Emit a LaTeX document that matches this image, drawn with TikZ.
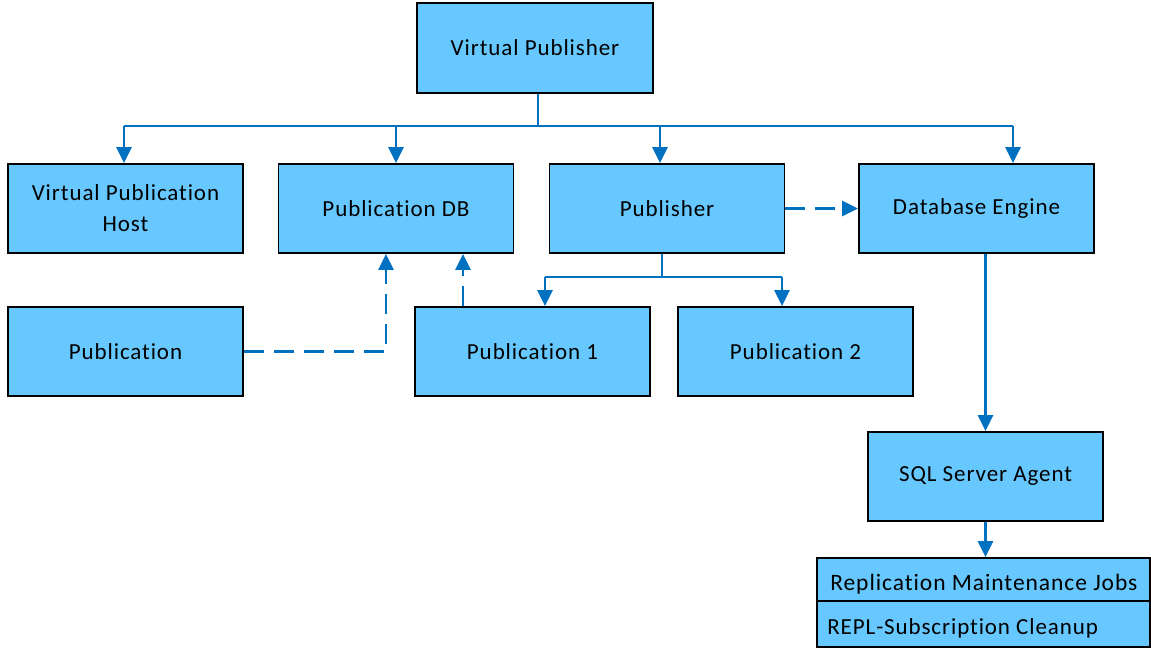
\documentclass[tikz,border=0pt]{standalone}
\usepackage{fontspec}
\setmainfont{Carlito}[Ligatures={NoCommon},LetterSpace=4]
\usetikzlibrary{arrows.meta}
\definecolor{boxfill}{HTML}{66C8FF}
\definecolor{linkblue}{HTML}{0070C0}
\begin{document}
\begin{tikzpicture}[x=1pt,y=-1pt,
  box/.style={draw=black,line width=1.8pt,fill=boxfill,minimum width=235pt,minimum height=89pt,
    inner sep=0pt,align=center,font=\fontsize{23}{31}\selectfont},
  conn/.style={draw=linkblue,line width=2.4pt},
  arr/.style={conn,-{Triangle[width=15pt,length=16pt]}},
  dashline/.style={conn,dash pattern=on 20pt off 10pt},
  darr/.style={dashline,-{Triangle[width=15pt,length=16pt]}}]
\useasboundingbox (0,0) rectangle (1151,650);
\node[box,minimum width=236pt,minimum height=90pt] (vp) at (535,48) {Virtual Publisher};
\node[box] (vph) at (125.5,208.5) {Virtual Publication\\Host};
\node[box] (pdb) at (396,208.5) {Publication DB};
\node[box] (pub) at (667,208.5) {Publisher};
\node[box] (de) at (976.5,208.5) {Database Engine};
\node[box] (pn) at (125.5,351.5) {Publication};
\node[box] (p1) at (532.5,351.5) {Publication 1};
\node[box] (p2) at (795.5,351.5) {Publication 2};
\node[box] (sql) at (985.5,476.5) {SQL Server Agent};
\node[box,minimum width=333pt,minimum height=43pt] (rmj) at (983.5,579.5) {};
\node[box,minimum width=333pt,minimum height=46pt] (rsc) at (983.5,624) {};
\node[anchor=west,inner sep=0pt,font=\fontsize{23.5}{31}\selectfont] (rmjt) at ([xshift=14pt,yshift=-5pt]rmj.west) {Replication Maintenance Jobs};
\node[anchor=west,inner sep=0pt,font=\fontsize{23}{31}\selectfont] (rsct) at ([xshift=11pt,yshift=-4pt]rsc.west) {REPL-Subscription Cleanup};
% bus from Virtual Publisher
\coordinate (bj) at ([xshift=3pt]vp.south |- 0,126);
\draw[conn] ([xshift=3pt]vp.south) -- (bj);
\coordinate (bl) at ([xshift=-1.5pt]vph.north |- 0,126);
\coordinate (br) at ([xshift=36.5pt]de.north |- 0,126);
\draw[conn] (bl) -- (br);
\draw[arr] (bl) -- ([xshift=-1.5pt]vph.north);
\draw[arr] (pdb.north |- bl) -- (pdb.north);
\draw[arr] ([xshift=-7pt]pub.north |- bl) -- ([xshift=-7pt]pub.north);
\draw[arr] (br) -- ([xshift=36.5pt]de.north);
% publisher to publications
\coordinate (pj) at ([xshift=-5pt]pub.south |- 0,277);
\draw[conn] ([xshift=-5pt]pub.south) -- (pj);
\coordinate (pl) at ([xshift=12.5pt]p1.north |- 0,277);
\coordinate (pr) at ([xshift=-13.5pt]p2.north |- 0,277);
\draw[conn] (pl) -- (pr);
\draw[arr] (pl) -- ([xshift=12.5pt]p1.north);
\draw[arr] (pr) -- ([xshift=-13.5pt]p2.north);
% dashed
\draw[darr] (pub.east) -- (de.west);
\draw[darr] (pn.east) -| ([xshift=-10pt]pdb.south);
\draw[darr] ([xshift=-69.5pt]p1.north) -- ([xshift=67pt]pdb.south);
% engine chain
\draw[arr] (de.south -| sql.north) -- (sql.north);
\draw[arr] (sql.south) -- (sql.south |- rmj.north);
\end{tikzpicture}
\end{document}
